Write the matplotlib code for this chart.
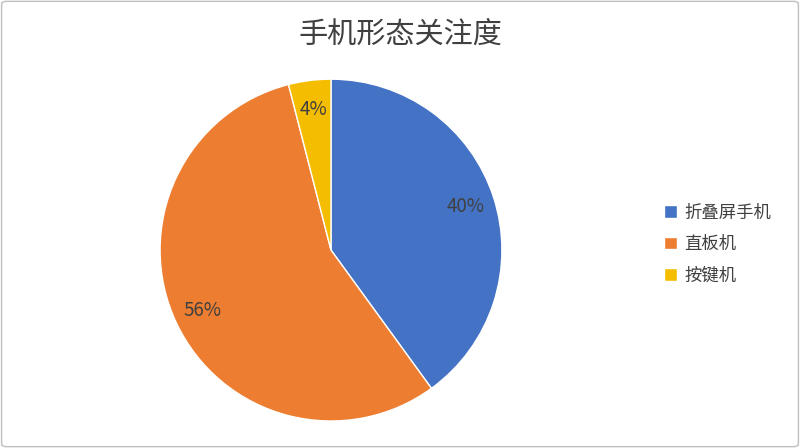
import matplotlib.pyplot as plt
from matplotlib.patches import FancyBboxPatch

plt.rcParams['font.family'] = ['Noto Sans CJK SC', 'DejaVu Sans']

# data
labels = ['折叠屏手机', '直板机', '按键机']
values = [40, 56, 4]
colors = ['#4472C4', '#ED7D31', '#F5BD00']
title = '手机形态关注度'

fig = plt.figure(figsize=(8, 4.48), dpi=100)
ax = fig.add_axes([0.2, 0.0603, 0.4275, 0.763])

wedges, texts, autotexts = ax.pie(
    values, colors=colors, startangle=90, counterclock=False,
    autopct='%d%%', pctdistance=0.83,
    wedgeprops=dict(edgecolor='white', linewidth=1),
    textprops=dict(color='#404040', fontsize=13.5))
ax.set_xlim(-1, 1)
ax.set_ylim(-1, 1)
ax.set_aspect('equal')

fig.text(0.5, 0.922, title, ha='center', va='center',
         fontsize=21, color='#404040')

leg = fig.legend(wedges, labels, loc='center left',
                 bbox_to_anchor=(0.81, 0.455), frameon=False,
                 fontsize=12.5, handlelength=0.75, handleheight=0.75,
                 handletextpad=0.45, labelspacing=0.78)
for t in leg.get_texts():
    t.set_color('#404040')

# figure border
border = FancyBboxPatch((0.002, 0.003), 0.996, 0.994,
                        boxstyle='round,pad=0,rounding_size=0.006',
                        transform=fig.transFigure, fill=False,
                        edgecolor='#BFBFBF', linewidth=1)
fig.patches.append(border)

fig.savefig('out.png', dpi=100)
